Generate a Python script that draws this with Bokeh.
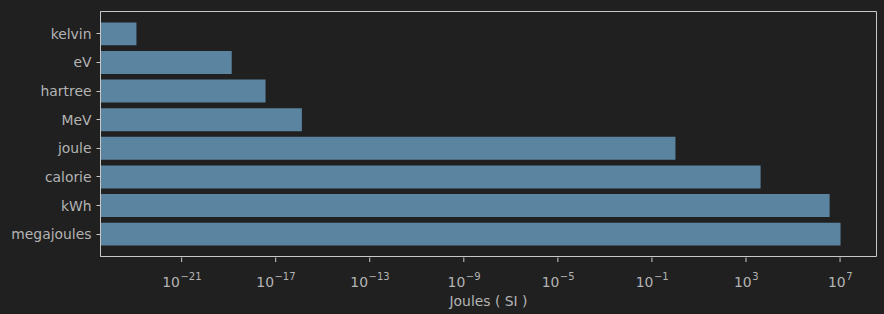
from bokeh.plotting import figure
from bokeh.layouts import column
from bokeh.models import Range1d, FactorRange, ColumnDataSource
from bokeh.core.properties import value
from bokeh.embed import file_html
from bokeh.resources import INLINE

units = ["kelvin", "eV", "hartree", "MeV", "joule", "calorie", "kWh", "megajoules"]
joules = [1.2e-23, 1.35e-19, 3.7e-18, 1.3e-16, 1.0, 4184.0, 3.6e6, 1.05e7]
tick_exps = [-21, -17, -13, -9, -5, -1, 3, 7]
x_label = "Joules ( SI )"

BG = "#202020"
BAR = "#5b84a1"
TXT = "#b4b4b4"
LINE = "#c8c8c8"
FONT = "DejaVu Sans"
FS = 13.9
EXP_FS = 10.0
XR = Range1d(10**-24.45, 10**8.55)

src = ColumnDataSource(dict(unit=units, val=joules, left=[10**-30] * len(units)))

p = figure(width=884, height=257, output_backend="svg", toolbar_location=None,
           x_axis_type="log", x_range=XR,
           y_range=FactorRange(factors=list(reversed(units)), range_padding=0.07),
           background_fill_color=BG, border_fill_color=BG,
           min_border_left=100, min_border_right=8, min_border_top=11, min_border_bottom=1)

p.hbar(y="unit", left="left", right="val", height=0.8, source=src,
       fill_color=BAR, line_color=None)

p.grid.visible = False
p.outline_line_color = LINE
p.outline_line_width = 1
p.xaxis.visible = False

ya = p.yaxis[0]
ya.axis_line_color = LINE
ya.major_tick_line_color = LINE
ya.major_tick_in = 0
ya.major_tick_out = 4
ya.minor_tick_line_color = None
ya.major_label_text_font = FONT
ya.major_label_text_font_size = f"{FS}px"
ya.major_label_text_color = TXT
ya.major_label_standoff = 5

# bottom strip: x ticks, tick labels "10" + raised exponent, axis title
H2 = 57
p2 = figure(width=884, height=H2, output_backend="svg", toolbar_location=None,
            x_axis_type="log", x_range=XR, y_range=Range1d(0, H2),
            background_fill_color=BG, border_fill_color=BG, outline_line_color=None,
            min_border_left=100, min_border_right=8, min_border_top=0, min_border_bottom=0)
p2.axis.visible = False
p2.grid.visible = False

DIGIT_W = 0.636
MINUS_W = 0.838
tx, base, base_off, exps, exp_off = [], [], [], [], []
for e in tick_exps:
    exp_txt = str(e).replace("-", "\u2212")
    w10 = 2 * DIGIT_W * FS
    wexp = sum(MINUS_W if c == "\u2212" else DIGIT_W for c in exp_txt) * EXP_FS
    split = w10 - (w10 + wexp) / 2
    tx.append(10.0**e)
    base.append("10")
    exps.append(exp_txt)
    base_off.append(split)
    exp_off.append(split + 0.5)

tsrc = ColumnDataSource(dict(x=tx, base=base, exps=exps, boff=base_off, eoff=exp_off,
                             y0=[H2 + 0.5] * len(tx), y1=[H2 - 4.5] * len(tx)))
p2.segment(x0="x", x1="x", y0="y0", y1="y1", source=tsrc, line_color=LINE, line_width=1)
p2.text(x="x", y=H2 - 24.5, text="base", x_offset="boff", source=tsrc,
        text_align="right", text_baseline="alphabetic",
        text_font=value(FONT), text_font_size=f"{FS}px", text_color=TXT)
p2.text(x="x", y=H2 - 18.7, text="exps", x_offset="eoff", source=tsrc,
        text_align="left", text_baseline="alphabetic",
        text_font=value(FONT), text_font_size=f"{EXP_FS}px", text_color=TXT)
p2.text(x=[10**((-24.45 + 8.55) / 2)], y=[H2 - 43.5], text=[x_label],
        text_align="center", text_baseline="alphabetic",
        text_font=value(FONT), text_font_size=f"{FS}px", text_color=TXT)

layout = column(p, p2, spacing=0)
html = file_html(layout, INLINE)
html = html.replace("<head>", "<head><style>html,body{background:%s;margin:0;padding:0}</style>" % BG, 1)
open("out.html", "w").write(html)
